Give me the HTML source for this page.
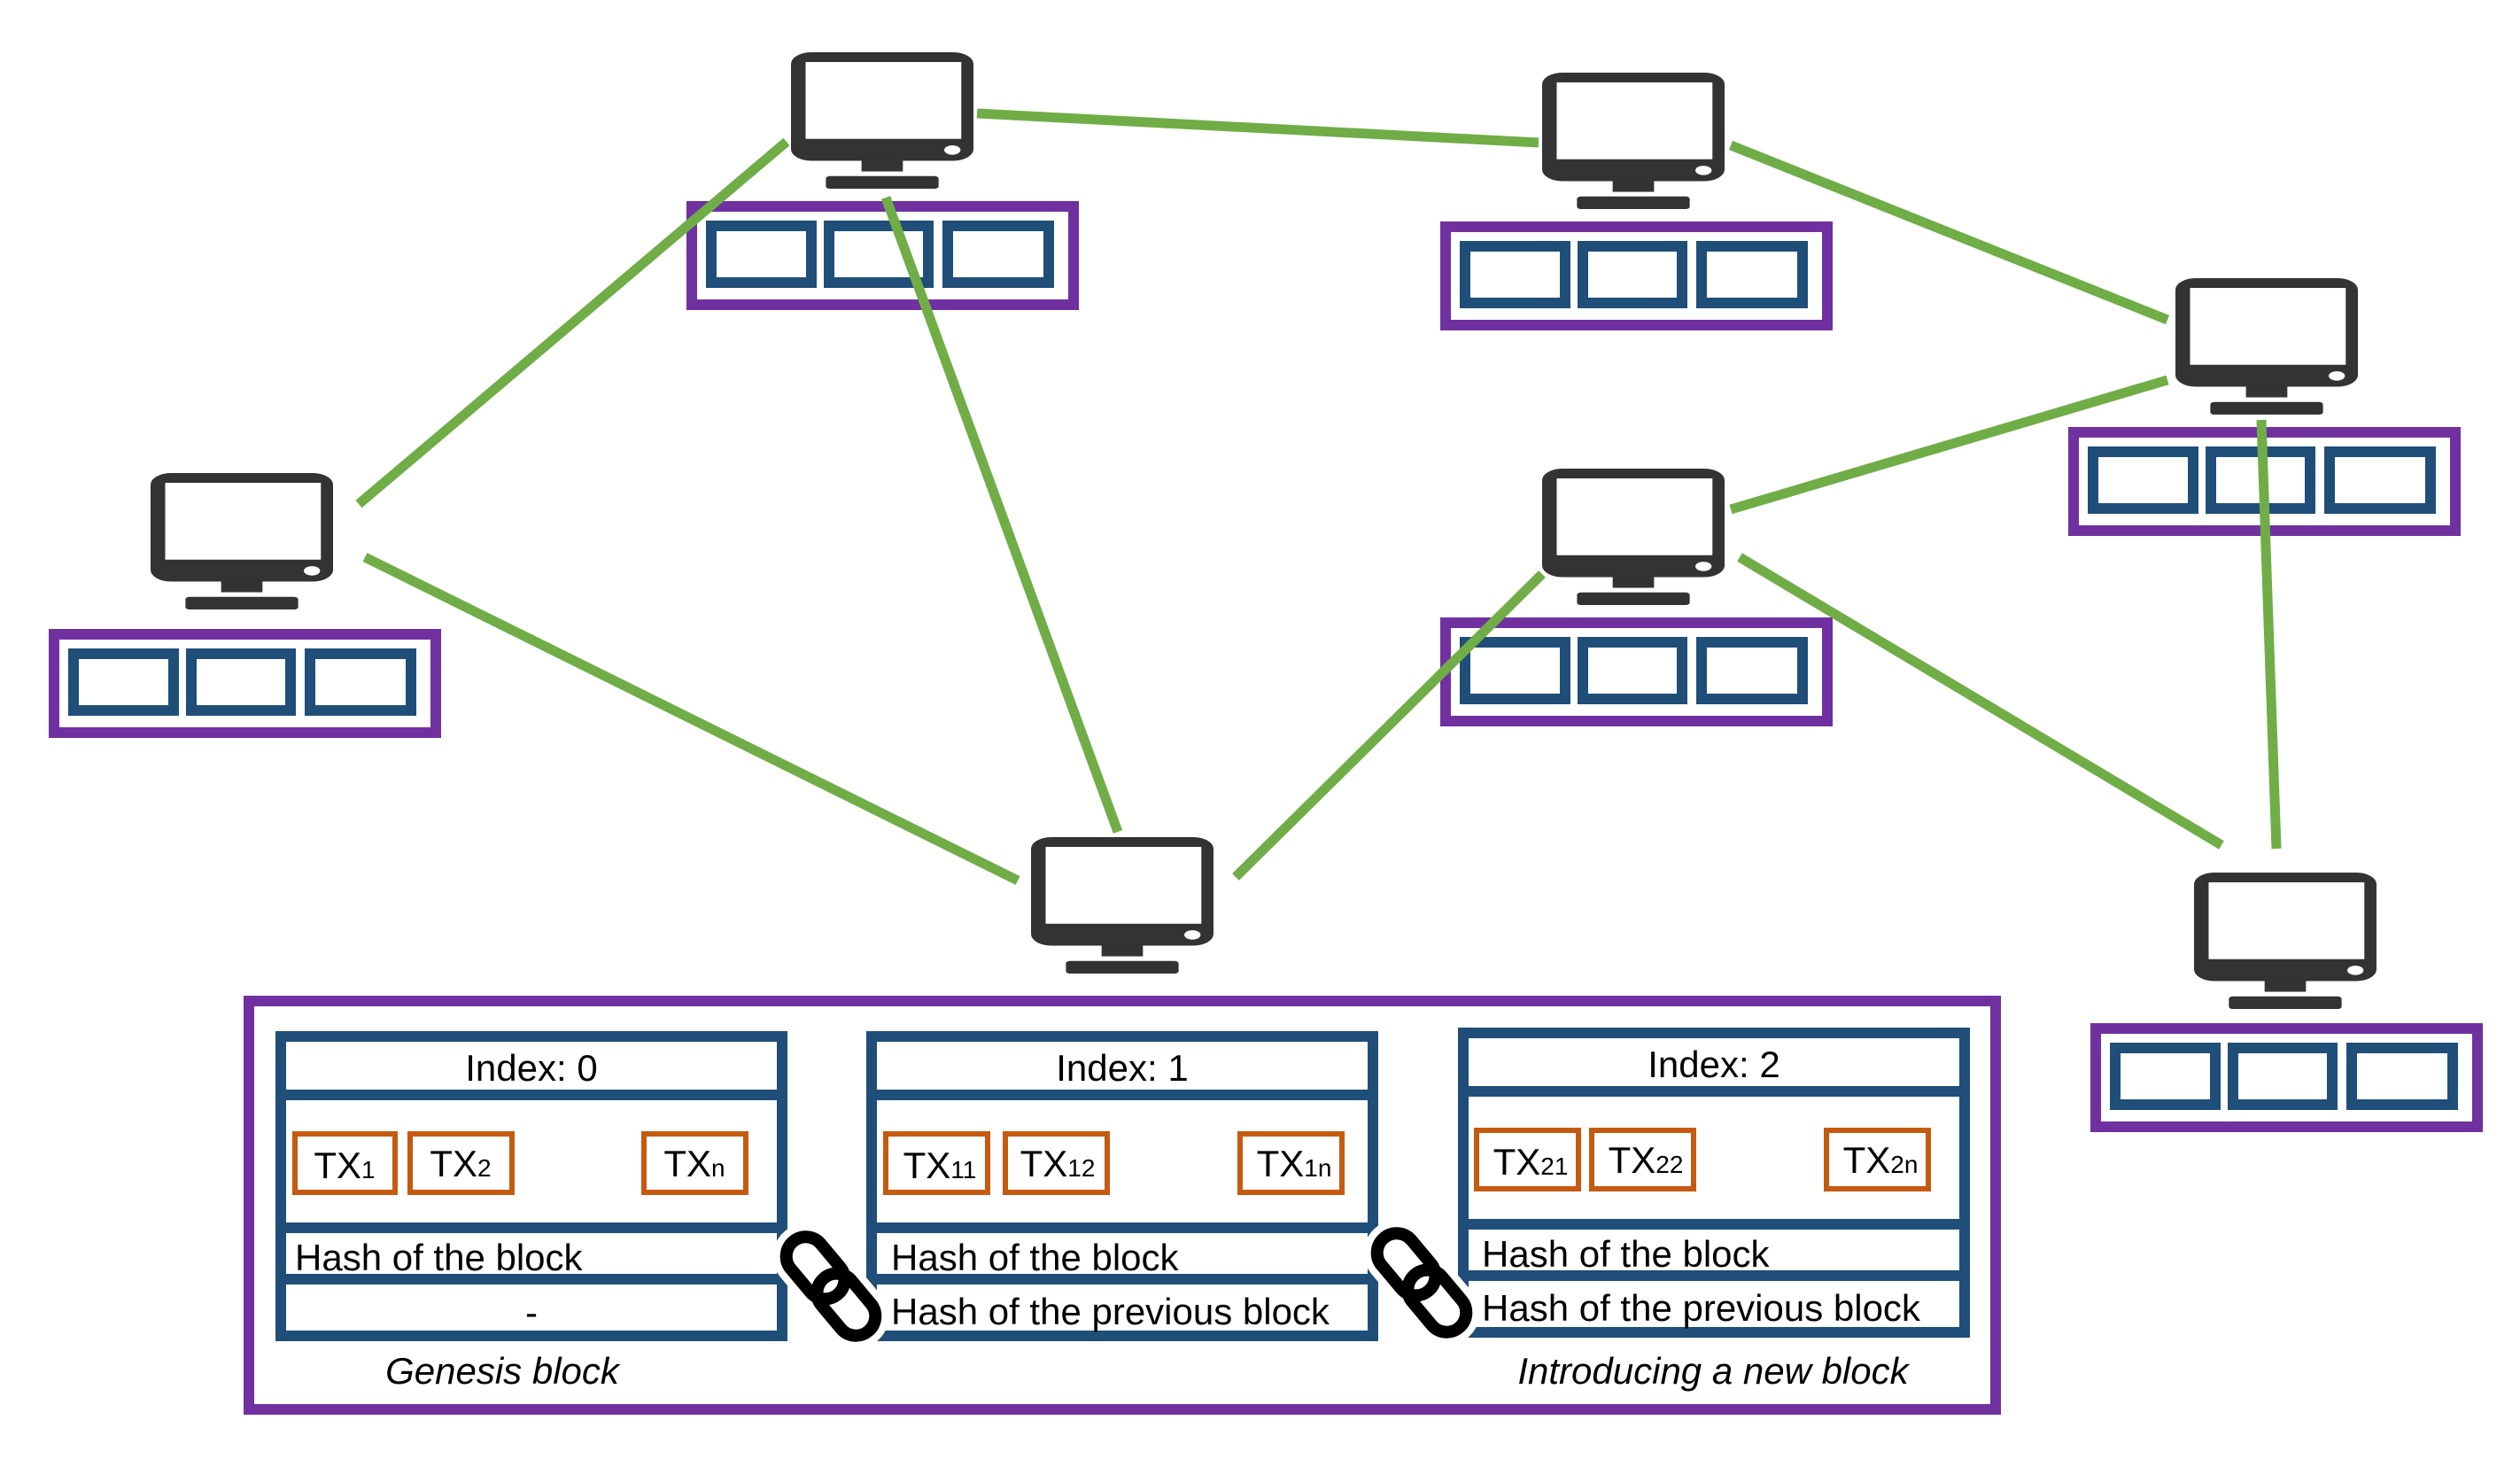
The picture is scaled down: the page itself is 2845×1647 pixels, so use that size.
<!DOCTYPE html>
<html><head><meta charset="utf-8"><style>html,body{margin:0;padding:0;background:#fff}svg{display:block}</style></head>
<body>
<svg width="2845" height="1647" viewBox="0 0 2845 1647" xmlns="http://www.w3.org/2000/svg" font-family="Liberation Sans, sans-serif">
<defs>
<g id="mon">
<svg width="206" height="154" viewBox="0 0 225 293" preserveAspectRatio="none">
<rect x="0" y="0" width="225" height="233" rx="25" fill="#333"/>
<rect x="18" y="21" width="192" height="165" fill="#fff"/>
<circle cx="199" cy="210" r="10" fill="#fff"/>
<rect x="87" y="232" width="51" height="24" fill="#333"/>
<rect x="43" y="266" width="139" height="27" rx="5" fill="#333"/>
</svg>
</g>
<g id="box">
<rect x="6" y="6" width="431" height="111" fill="#fff" stroke="#7030a0" stroke-width="12"/>
<g fill="none" stroke="#1f4e79" stroke-width="12">
<rect x="28" y="28" width="113" height="64"/>
<rect x="161" y="28" width="112" height="64"/>
<rect x="295" y="28" width="114" height="64"/>
</g>
</g>
<g id="link" fill="none" stroke="#000" stroke-width="14">
<rect x="-66" y="-22" width="78" height="44" rx="22" transform="rotate(50)"/>
<rect x="-12" y="-22" width="78" height="44" rx="22" transform="rotate(50)"/>
</g>
</defs>

<use href="#box" x="775" y="227"/>
<use href="#box" x="1626" y="250"/>
<use href="#box" x="2335" y="482"/>
<use href="#box" x="1626" y="697"/>
<use href="#box" x="2360" y="1155"/>
<use href="#box" x="55" y="710"/>

<g stroke="#70ad47" stroke-width="11" fill="none">
<line x1="888" y1="160" x2="405" y2="569"/>
<line x1="412" y1="629" x2="1149" y2="994"/>
<line x1="1000" y1="223" x2="1262" y2="939"/>
<line x1="1103" y1="128" x2="1737" y2="161"/>
<line x1="1954" y1="164" x2="2447" y2="361"/>
<line x1="2447" y1="429" x2="1954" y2="575"/>
<line x1="1741" y1="648" x2="1395" y2="990"/>
<line x1="1964" y1="629" x2="2508" y2="954"/>
<line x1="2553" y1="474" x2="2570" y2="958"/>
</g>

<use href="#mon" x="893" y="59"/>
<use href="#mon" x="1741" y="82"/>
<use href="#mon" x="2456" y="314"/>
<use href="#mon" x="1741" y="529"/>
<use href="#mon" x="1164" y="945"/>
<use href="#mon" x="2477" y="985"/>
<use href="#mon" x="170" y="534"/>

<rect x="281" y="1130" width="1972" height="461" fill="#fff" stroke="#7030a0" stroke-width="12"/>

<g fill="none" stroke="#1f4e79" stroke-width="12">
<rect x="317" y="1170" width="566" height="338"/>
<line x1="317" y1="1236" x2="883" y2="1236"/>
<line x1="317" y1="1386" x2="883" y2="1386"/>
<line x1="317" y1="1444" x2="883" y2="1444"/>
<rect x="984" y="1170" width="566" height="338"/>
<line x1="984" y1="1236" x2="1550" y2="1236"/>
<line x1="984" y1="1386" x2="1550" y2="1386"/>
<line x1="984" y1="1444" x2="1550" y2="1444"/>
<rect x="1652" y="1166" width="566" height="338"/>
<line x1="1652" y1="1232" x2="2218" y2="1232"/>
<line x1="1652" y1="1382" x2="2218" y2="1382"/>
<line x1="1652" y1="1440" x2="2218" y2="1440"/>
</g>
<g fill="none" stroke="#c55a11" stroke-width="6">
<rect x="333" y="1280" width="113" height="66"/>
<rect x="463" y="1280" width="115" height="66"/>
<rect x="727" y="1280" width="115" height="66"/>
<rect x="1000" y="1280" width="115" height="66"/>
<rect x="1135" y="1280" width="115" height="66"/>
<rect x="1400" y="1280" width="115" height="66"/>
<rect x="1667" y="1276" width="115" height="66"/>
<rect x="1797" y="1276" width="115" height="66"/>
<rect x="2062" y="1276" width="115" height="66"/>
</g>

<g font-size="42" fill="#000">
<text x="600" y="1220" text-anchor="middle">Index: 0</text>
<text x="1267" y="1220" text-anchor="middle">Index: 1</text>
<text x="1935" y="1216" text-anchor="middle">Index: 2</text>
<text x="389" y="1330" text-anchor="middle">TX<tspan font-size="28">1</tspan></text>
<text x="520" y="1328" text-anchor="middle">TX<tspan font-size="28">2</tspan></text>
<text x="784" y="1328" text-anchor="middle">TX<tspan font-size="28">n</tspan></text>
<text x="1061" y="1330" text-anchor="middle">TX<tspan font-size="28">11</tspan></text>
<text x="1194" y="1328" text-anchor="middle">TX<tspan font-size="28">12</tspan></text>
<text x="1461" y="1328" text-anchor="middle">TX<tspan font-size="28">1n</tspan></text>
<text x="1728" y="1326" text-anchor="middle">TX<tspan font-size="28">21</tspan></text>
<text x="1858" y="1324" text-anchor="middle">TX<tspan font-size="28">22</tspan></text>
<text x="2123" y="1324" text-anchor="middle">TX<tspan font-size="28">2n</tspan></text>
<text x="333" y="1434">Hash  of the block</text>
<text x="600" y="1496" text-anchor="middle">-</text>
<text x="1006" y="1434">Hash  of the block</text>
<text x="1006" y="1495">Hash  of the previous block</text>
<text x="1673" y="1430">Hash  of the block</text>
<text x="1673" y="1491">Hash  of the previous block</text>
<text x="567" y="1562" text-anchor="middle" font-style="italic">Genesis block</text>
<text x="1934" y="1562" text-anchor="middle" font-style="italic">Introducing a new block</text>
</g>

<g transform="translate(938,1452)">
<g stroke="#fff" stroke-width="30" fill="none">
<rect x="-66" y="-22" width="78" height="44" rx="22" transform="rotate(50)"/>
<rect x="-12" y="-22" width="78" height="44" rx="22" transform="rotate(50)"/>
</g>
<use href="#link"/>
</g>
<g transform="translate(1605,1448)">
<g stroke="#fff" stroke-width="30" fill="none">
<rect x="-66" y="-22" width="78" height="44" rx="22" transform="rotate(50)"/>
<rect x="-12" y="-22" width="78" height="44" rx="22" transform="rotate(50)"/>
</g>
<use href="#link"/>
</g>
</svg>
</body></html>
